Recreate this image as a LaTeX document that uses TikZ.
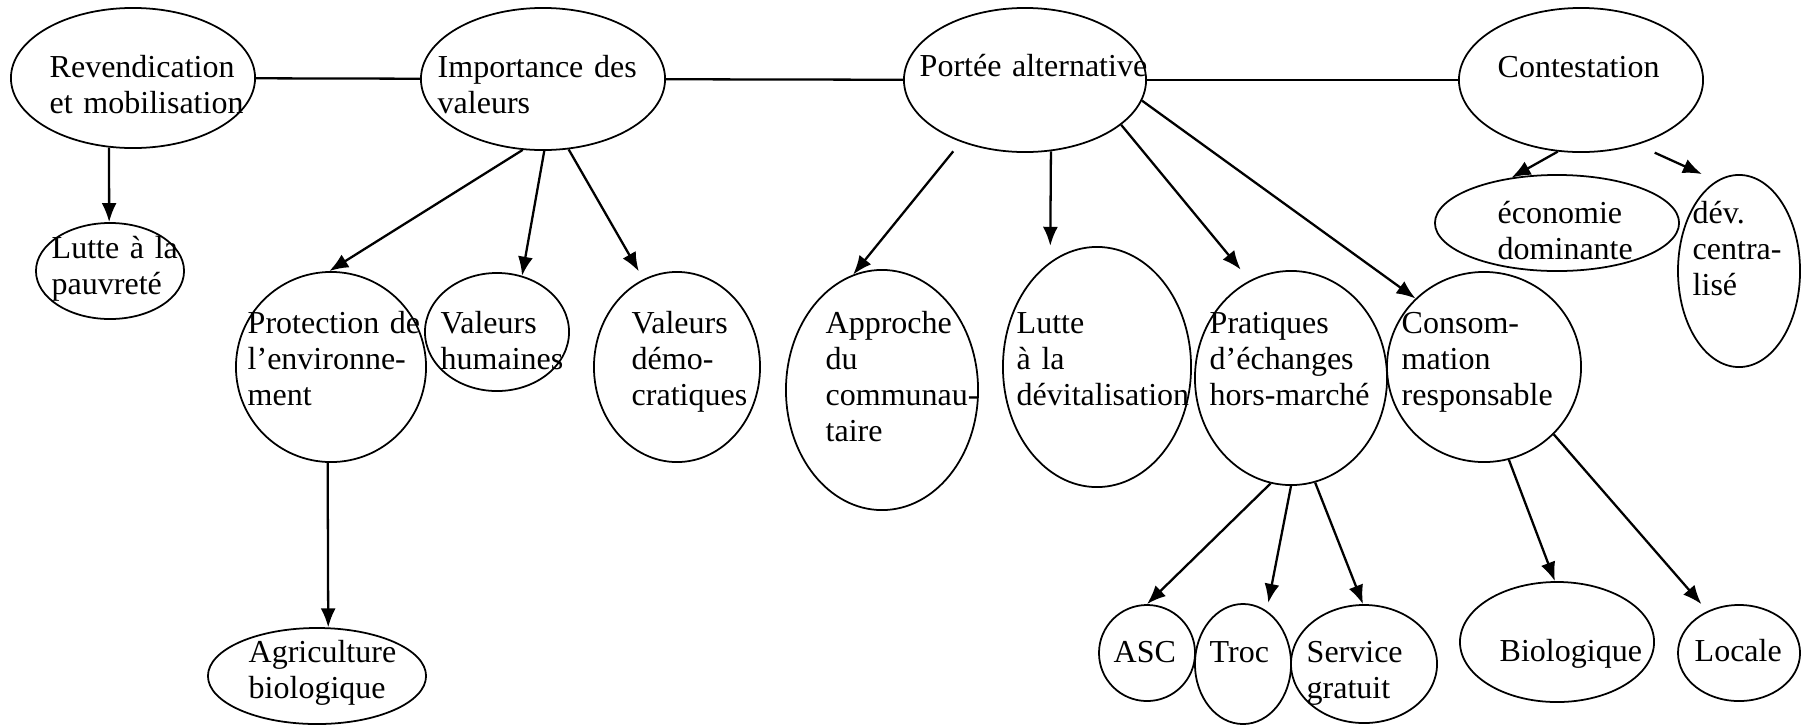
\documentclass[tikz,border=0pt]{standalone}
\usepackage{fontspec}
\setmainfont{Liberation Serif}
\usetikzlibrary{shapes.geometric,arrows.meta}

\begin{document}
\begin{tikzpicture}[x=0.01cm, y=-0.01cm,
    bubble/.style={ellipse, draw, line width=0.5pt, inner sep=0pt},
    txt/.style={anchor=base west, text width=3cm, align=left, inner sep=0pt,
      font=\fontsize{9.1}{10.24}\selectfont},
    link/.style={line width=0.65pt},
    arr/.style={-{Latex[length=0.19cm, width=0.15cm]}, line width=0.65pt}]
  \useasboundingbox (0,0) rectangle (1804,724);

  % --- top row ---
  \node[bubble, minimum width=2.44cm, minimum height=1.40cm] (rev) at (133,78) {};
  \node[txt] (rev-t) at (49,77) {Revendication\\et mobilisation};
  \node[bubble, minimum width=2.44cm, minimum height=1.42cm] (imp) at (543,79) {};
  \node[txt] (imp-t) at (437,77) {Importance des\\valeurs};
  \node[bubble, minimum width=2.42cm, minimum height=1.44cm] (por) at (1025,80) {};
  \node[txt] (por-t) at (919,76) {Portée alternative};
  \node[bubble, minimum width=2.44cm, minimum height=1.44cm] (con) at (1581,80) {};
  \node[txt] (con-t) at (1497,77) {Contestation};

  \draw[link] (rev) -- (imp);
  \draw[link] (imp) -- (por);
  \draw[link] (por) -- (con);

  % --- under Revendication ---
  \node[bubble, minimum width=1.48cm, minimum height=0.96cm] (lut) at (110,271) {};
  \node[txt] (lut-t) at (51,258) {Lutte à la\\pauvreté};

  % --- under Importance des valeurs ---
  \node[bubble, minimum width=1.90cm, minimum height=1.90cm] (pro) at (331,367) {};
  \node[txt] (pro-t) at (247,333) {Protection de\\l’environne-\\ment};
  \node[bubble, minimum width=1.44cm, minimum height=1.18cm] (vhu) at (497,332) {};
  \node[txt] (vhu-t) at (440,333) {Valeurs\\humaines};
  \node[bubble, minimum width=1.66cm, minimum height=1.90cm] (vde) at (677,367) {};
  \node[txt] (vde-t) at (631,333) {Valeurs\\démo-\\cratiques};
  \node[bubble, minimum width=2.18cm, minimum height=0.96cm] (agr) at (317,676) {};
  \node[txt] (agr-t) at (248,662) {Agriculture\\biologique};

  % --- under Portée alternative ---
  \node[bubble, minimum width=1.92cm, minimum height=2.40cm] (app) at (882,390) {};
  \node[txt] (app-t) at (825,333) {Approche\\du\\communau-\\taire};
  \node[bubble, minimum width=1.88cm, minimum height=2.40cm] (ldv) at (1097,367) {};
  \node[txt] (ldv-t) at (1016,333) {Lutte\\à la\\dévitalisation};
  \node[bubble, minimum width=1.92cm, minimum height=2.14cm] (pra) at (1291,378) {};
  \node[txt] (pra-t) at (1209,333) {Pratiques\\d’échanges\\hors-marché};
  \node[bubble, minimum width=1.94cm, minimum height=1.90cm] (cns) at (1484,367) {};
  \node[txt] (cns-t) at (1401,333) {Consom-\\mation\\responsable};

  \node[bubble, minimum width=0.96cm, minimum height=0.96cm] (asc) at (1147,653) {};
  \node[txt] (asc-t) at (1113,662) {ASC};
  \node[bubble, minimum width=0.96cm, minimum height=1.20cm] (tro) at (1243,664) {};
  \node[txt] (tro-t) at (1209,662) {Troc};
  \node[bubble, minimum width=1.46cm, minimum height=1.18cm] (ser) at (1364,664) {};
  \node[txt] (ser-t) at (1306,662) {Service\\gratuit};
  \node[bubble, minimum width=1.94cm, minimum height=1.20cm] (bio) at (1557,642) {};
  \node[txt] (bio-t) at (1499,661) {Biologique};
  \node[bubble, minimum width=1.22cm, minimum height=0.96cm] (loc) at (1739,653) {};
  \node[txt] (loc-t) at (1694,661) {Locale};

  % --- under Contestation ---
  \node[bubble, minimum width=2.44cm, minimum height=0.96cm] (eco) at (1557,223) {};
  \node[txt] (eco-t) at (1497,223) {économie\\dominante};
  \node[bubble, minimum width=1.22cm, minimum height=1.92cm] (dev) at (1739,271) {};
  \node[txt] (dev-t) at (1692,223) {dév.\\centra-\\lisé};

  % arrows
  \draw[arr] (rev.251) -- (lut.91);
  \draw[arr] (imp.254) -- (pro.91);
  \draw[arr] (imp.271) -- (vhu.66);
  \draw[arr, shorten >=0.09cm] (imp.290) -- (vde.111);
  \draw[arr] (pro.268) -- (agr.77);
  \draw[arr, shorten <=0.12cm] (por.224) -- (app.104);
  \draw[arr, shorten >=0.16cm] (por.290) -- (ldv.114);
  \draw[arr, shorten >=0.14cm] (por.335) -- (pra.113);
  \draw[arr] (por.350) -- (cns.135);
  \draw[arr] (con.252) -- (eco.135);
  \draw[arr, shorten <=0.19cm, shorten >=0.16cm] (con.311) -- (dev.104);
  \draw[arr] (pra.259) -- (asc.90);
  \draw[arr, shorten >=0.08cm] (pra.270) -- (tro.66);
  \draw[arr] (pra.283) -- (ser.91);
  \draw[arr] (cns.285) -- (bio.92);
  \draw[arr, shorten >=0.09cm] (cns.316) -- (loc.127);

\end{tikzpicture}
\end{document}
